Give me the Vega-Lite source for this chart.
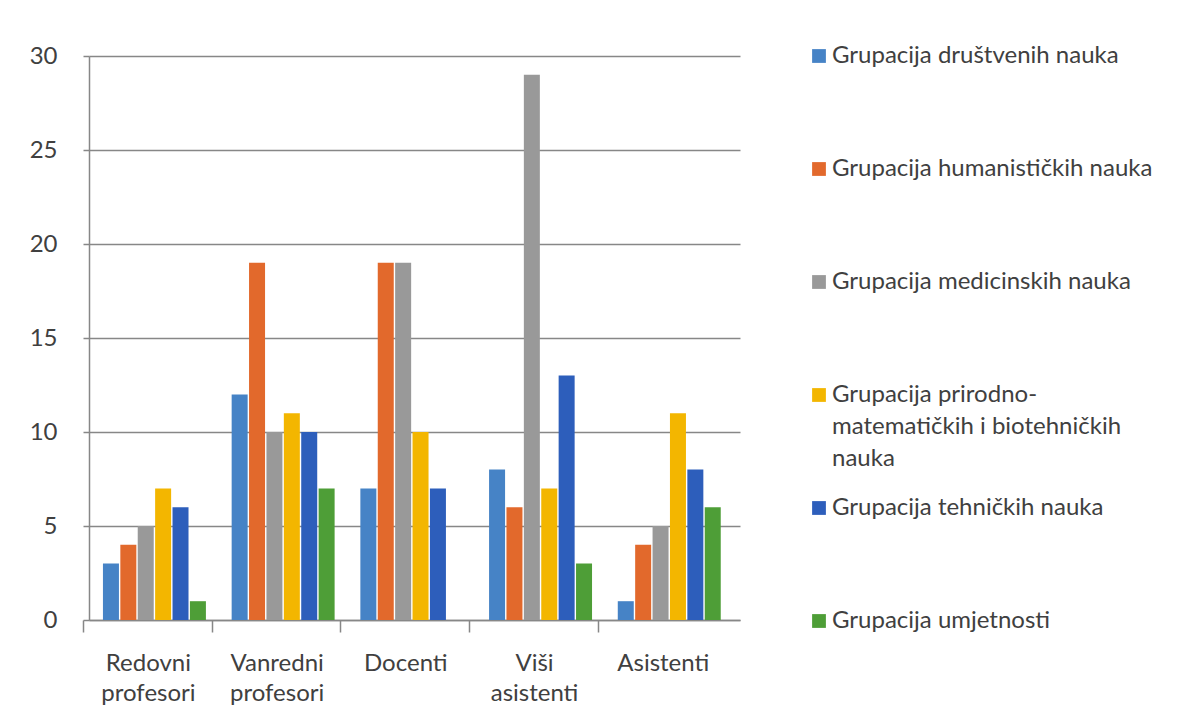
{
  "$schema": "https://vega.github.io/schema/vega-lite/v6.json",
  "background": "white",
  "padding": {"left": 29, "top": 44, "right": 10, "bottom": 10},
  "datasets": {
    "bars": [
      {"category": "Redovni profesori", "series": "Grupacija društvenih nauka", "value": 3},
      {"category": "Redovni profesori", "series": "Grupacija humanističkih nauka", "value": 4},
      {"category": "Redovni profesori", "series": "Grupacija medicinskih nauka", "value": 5},
      {"category": "Redovni profesori", "series": "Grupacija prirodno-matematičkih i biotehničkih nauka", "value": 7},
      {"category": "Redovni profesori", "series": "Grupacija tehničkih nauka", "value": 6},
      {"category": "Redovni profesori", "series": "Grupacija umjetnosti", "value": 1},
      {"category": "Vanredni profesori", "series": "Grupacija društvenih nauka", "value": 12},
      {"category": "Vanredni profesori", "series": "Grupacija humanističkih nauka", "value": 19},
      {"category": "Vanredni profesori", "series": "Grupacija medicinskih nauka", "value": 10},
      {"category": "Vanredni profesori", "series": "Grupacija prirodno-matematičkih i biotehničkih nauka", "value": 11},
      {"category": "Vanredni profesori", "series": "Grupacija tehničkih nauka", "value": 10},
      {"category": "Vanredni profesori", "series": "Grupacija umjetnosti", "value": 7},
      {"category": "Docenti", "series": "Grupacija društvenih nauka", "value": 7},
      {"category": "Docenti", "series": "Grupacija humanističkih nauka", "value": 19},
      {"category": "Docenti", "series": "Grupacija medicinskih nauka", "value": 19},
      {"category": "Docenti", "series": "Grupacija prirodno-matematičkih i biotehničkih nauka", "value": 10},
      {"category": "Docenti", "series": "Grupacija tehničkih nauka", "value": 7},
      {"category": "Docenti", "series": "Grupacija umjetnosti", "value": 0},
      {"category": "Viši asistenti", "series": "Grupacija društvenih nauka", "value": 8},
      {"category": "Viši asistenti", "series": "Grupacija humanističkih nauka", "value": 6},
      {"category": "Viši asistenti", "series": "Grupacija medicinskih nauka", "value": 29},
      {"category": "Viši asistenti", "series": "Grupacija prirodno-matematičkih i biotehničkih nauka", "value": 7},
      {"category": "Viši asistenti", "series": "Grupacija tehničkih nauka", "value": 13},
      {"category": "Viši asistenti", "series": "Grupacija umjetnosti", "value": 3},
      {"category": "Asistenti", "series": "Grupacija društvenih nauka", "value": 1},
      {"category": "Asistenti", "series": "Grupacija humanističkih nauka", "value": 4},
      {"category": "Asistenti", "series": "Grupacija medicinskih nauka", "value": 5},
      {"category": "Asistenti", "series": "Grupacija prirodno-matematičkih i biotehničkih nauka", "value": 11},
      {"category": "Asistenti", "series": "Grupacija tehničkih nauka", "value": 8},
      {"category": "Asistenti", "series": "Grupacija umjetnosti", "value": 6}
    ],
    "legend": [
      {"series": "Grupacija društvenih nauka", "label": "Grupacija društvenih nauka"},
      {"series": "Grupacija humanističkih nauka", "label": "Grupacija humanističkih nauka"},
      {"series": "Grupacija medicinskih nauka", "label": "Grupacija medicinskih nauka"},
      {"series": "Grupacija prirodno-matematičkih i biotehničkih nauka", "label": "Grupacija prirodno-\nmatematičkih i biotehničkih\nnauka"},
      {"series": "Grupacija tehničkih nauka", "label": "Grupacija tehničkih nauka"},
      {"series": "Grupacija umjetnosti", "label": "Grupacija umjetnosti"}
    ]
  },
  "spacing": 69,
  "bounds": "flush",
  "hconcat": [
    {
      "width": 651,
      "height": 564,
      "data": {"name": "bars"},
      "mark": {"type": "bar"},
      "encoding": {
        "x": {
          "field": "category",
          "type": "nominal",
          "sort": ["Redovni profesori", "Vanredni profesori", "Docenti", "Viši asistenti", "Asistenti"],
          "scale": {"paddingInner": 0.2, "paddingOuter": 0.129, "align": 0.42},
          "axis": {
            "title": null,
            "labelAngle": 0,
            "labelExpr": "split(datum.label, ' ')",
            "labelLineHeight": 30,
            "labelFontSize": 24,
            "labelFont": "Lato",
            "labelColor": "#404040",
            "labelOverlap": false,
            "labelBound": false,
            "labelFlush": false,
            "bandPosition": -0.19,
            "labelOffset": -6,
            "tickSize": 12,
            "labelPadding": 19,
            "tickColor": "#878787",
            "domainColor": "#878787",
            "domainWidth": 1.5,
            "tickWidth": 1.5,
            "grid": false
          }
        },
        "xOffset": {
          "field": "series",
          "type": "nominal",
          "sort": ["Grupacija društvenih nauka", "Grupacija humanističkih nauka", "Grupacija medicinskih nauka", "Grupacija prirodno-matematičkih i biotehničkih nauka", "Grupacija tehničkih nauka", "Grupacija umjetnosti"],
          "scale": {"paddingInner": 0.08, "paddingOuter": 0}
        },
        "y": {
          "field": "value",
          "type": "quantitative",
          "scale": {"domain": [0, 30]},
          "axis": {
            "title": null,
            "values": [0, 5, 10, 15, 20, 25, 30],
            "labelFontSize": 24,
            "labelFont": "Lato",
            "labelColor": "#404040",
            "labelPadding": 26,
            "tickSize": 6,
            "tickColor": "#878787",
            "domainColor": "#878787",
            "domainWidth": 1.5,
            "tickWidth": 1.5,
            "grid": true,
            "gridColor": "#878787",
            "gridWidth": 1.5
          }
        },
        "color": {
          "field": "series",
          "type": "nominal",
          "scale": {
            "domain": ["Grupacija društvenih nauka", "Grupacija humanističkih nauka", "Grupacija medicinskih nauka", "Grupacija prirodno-matematičkih i biotehničkih nauka", "Grupacija tehničkih nauka", "Grupacija umjetnosti"],
            "range": ["#4683C6", "#E2692C", "#999999", "#F3B600", "#2D5EBB", "#4E9E37"]
          },
          "legend": null
        }
      }
    },
    {
      "width": 20,
      "height": 565,
      "data": {"name": "legend"},
      "encoding": {
        "y": {
          "field": "series",
          "type": "nominal",
          "sort": null,
          "scale": {"type": "point", "padding": 0},
          "axis": null
        }
      },
      "layer": [
        {
          "mark": {"type": "point", "shape": "square", "filled": true, "size": 190, "opacity": 1},
          "encoding": {
            "color": {
              "field": "series",
              "type": "nominal",
              "scale": {
                "domain": ["Grupacija društvenih nauka", "Grupacija humanističkih nauka", "Grupacija medicinskih nauka", "Grupacija prirodno-matematičkih i biotehničkih nauka", "Grupacija tehničkih nauka", "Grupacija umjetnosti"],
                "range": ["#4683C6", "#E2692C", "#999999", "#F3B600", "#2D5EBB", "#4E9E37"]
              },
              "legend": null
            }
          }
        },
        {
          "mark": {
            "type": "text",
            "align": "left",
            "baseline": "top",
            "dx": 13,
            "dy": -12,
            "fontSize": 24,
            "font": "Lato",
            "color": "#404040",
            "lineBreak": "\n",
            "lineHeight": 32
          },
          "encoding": {
            "text": {"field": "label", "type": "nominal"}
          }
        }
      ]
    }
  ],
  "config": {
    "view": {"stroke": null}
  }
}
